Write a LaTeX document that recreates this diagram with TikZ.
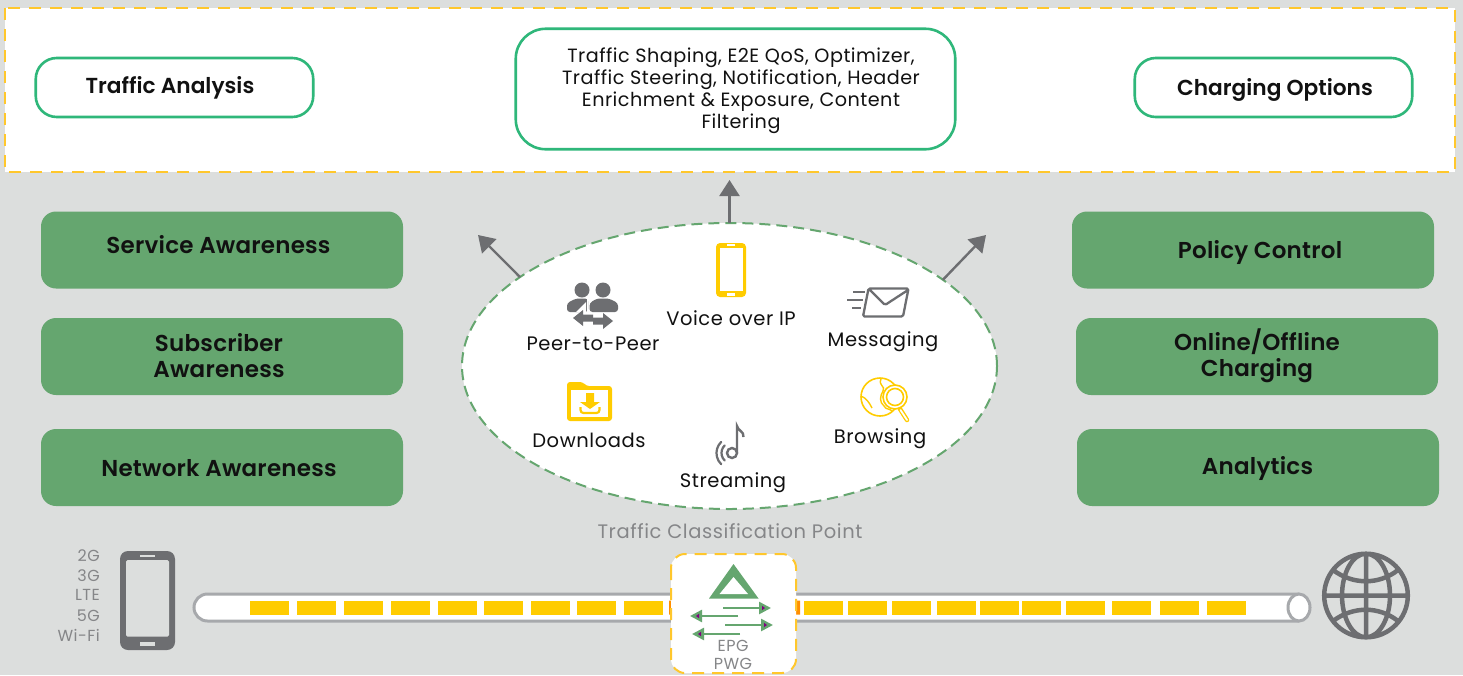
\documentclass[tikz,border=0pt]{standalone}
\usepackage{fontspec}
\setmainfont{Poppins}[BoldFont={Poppins SemiBold}]
\usetikzlibrary{arrows.meta,shapes.geometric}
\definecolor{bggray}{HTML}{DCDEDD}
\definecolor{dashyel}{HTML}{FFC72C}
\definecolor{fillyel}{HTML}{FFCC00}
\definecolor{boxgreen}{HTML}{65A66F}
\definecolor{linegreen}{HTML}{2FB77A}
\definecolor{icongray}{HTML}{6D6E71}
\definecolor{softgray}{HTML}{858688}
\definecolor{pipegray}{HTML}{A7A9AC}
\definecolor{inkblack}{HTML}{111111}
\begin{document}
\begin{tikzpicture}[x=1pt,y=-1pt,
yeldash/.style={draw=dashyel, line width=2pt, dash pattern=on 12pt off 9pt, fill=white},
outbox/.style={rectangle, draw=linegreen, line width=2.6pt, fill=white, rounded corners=21pt,
                inner sep=0pt, minimum width=277.5pt, minimum height=59pt},
grnbox/.style={rectangle, fill=boxgreen, rounded corners=15pt,
                inner sep=0pt, minimum width=362pt, minimum height=77pt},
toptxt/.style={font=\fontsize{21.7}{26}\selectfont\bfseries, text=inkblack, align=center, inner sep=0pt},
boldtxt/.style={font=\fontsize{23}{26}\selectfont\bfseries\addfontfeature{LetterSpace=1}, text=inkblack, align=center, inner sep=0pt},
appcap/.style={font=\fontsize{19.5}{22}\selectfont\addfontfeature{LetterSpace=3}, text=inkblack, align=center, inner sep=0pt},
epgcap/.style={font=\fontsize{16}{18}\selectfont\addfontfeature{LetterSpace=3}, text=softgray, inner sep=0pt},
gencap/.style={epgcap, anchor=east},
bar/.style={fill=fillyel},
grayarrow/.style={draw=icongray, line width=2.4pt, -{Triangle[width=20pt,length=16pt]}},
epgarrow/.style={draw=boxgreen, line width=2.5pt, -{Triangle[width=12pt,length=12pt]}}]
    \useasboundingbox (0,0) rectangle (1463,675);
    \fill [bggray] (0,0) rectangle (1463,675);
    % top band
    \draw [yeldash] (5,8) rectangle (1455,172);
    \node [outbox] (analysis) at (174.5,87.5) {};
    \node [toptxt] (analysistxt) at (170,88) {Traffic Analysis};
    \node [outbox, minimum width=439.5pt, minimum height=120.5pt, rounded corners=30pt] (shaping) at (735.5,89) {};
    \node [appcap, font=\fontsize{19.2}{22}\selectfont\addfontfeature{LetterSpace=2.5}] (shapingtxt) at (741,91)
        {Traffic Shaping, E2E QoS, Optimizer,\\Traffic Steering, Notification, Header\\Enrichment \& Exposure, Content\\Filtering};
    \node [outbox] (charging) at (1273.5,87.5) {};
    \node [toptxt] (chargingtxt) at (1275,90) {Charging Options};
    % green boxes
    \node [grnbox] (service) at (222,250) {};
    \node [boldtxt] (servicetxt) at (218.5,245) {Service Awareness};
    \node [grnbox] (subscriber) at (222,356.5) {};
    \node [boldtxt] (subscribertxt) at (219,355.5) {Subscriber\\Awareness};
    \node [grnbox] (network) at (222,467.5) {};
    \node [boldtxt] (networktxt) at (219,468.5) {Network Awareness};
    \node [grnbox] (policy) at (1253,250) {};
    \node [boldtxt] (policytxt) at (1260,252) {Policy Control};
    \node [grnbox] (online) at (1257,356.5) {};
    \node [boldtxt] (onlinetxt) at (1257,355.5) {Online/Offline\\Charging};
    \node [grnbox] (analytics) at (1258,467.5) {};
    \node [boldtxt] (analyticstxt) at (1257.5,468) {Analytics};
    % classification ellipse and its arrows
    \node [ellipse, draw=boxgreen, line width=2pt, dash pattern=on 11pt off 6pt, fill=white,
           inner sep=0pt, outer sep=0pt, minimum width=535pt, minimum height=286pt] (point) at (729.5,366) {};
    \coordinate (tipl) at (478,235);
    \coordinate (tipc) at (729.5,180);
    \coordinate (tipr) at (986,235);
    \draw [grayarrow] (point.157.7) -- (tipl);
    \draw [grayarrow] (point.north) -- (tipc);
    \draw [grayarrow] (point.22.3) -- (tipr);
    \node [appcap] (voip) at (731,318) {Voice over IP};
    \node [appcap] (peer) at (593,343.5) {Peer-to-Peer};
    \node [appcap] (messaging) at (883,342) {Messaging};
    \node [appcap] (downloads) at (589,440) {Downloads};
    \node [appcap] (browsing) at (880,439) {Browsing};
    \node [appcap] (streaming) at (733,483) {Streaming};
    \node [appcap, text=softgray] (classpoint) at (730,531) {Traffic Classification Point};
    % voice icon
    \fill [fillyel, rounded corners=4pt] (716,243) rectangle (746,297);
    \fill [white] (719.5,248) rectangle (743,291);
    \fill [white] (727,244.3) rectangle (735,246);
    \fill [white] (727,293.3) rectangle (735,295.5);
    % peer icon
    \fill [icongray] (582,290) circle (7.5) (603,290) circle (7.5);
    \fill [icongray, rounded corners=3pt] (567,312) -- (567,303) -- (576,298.5) -- (588,298.5) -- (588,312) -- cycle;
    \fill [icongray, rounded corners=3pt] (589.5,312) -- (589.5,303) -- (597,298.5) -- (609,298.5) -- (618,303) -- (618,312) -- cycle;
    \draw [white, line width=1.5pt] (587.5,298) -- (587.5,313);
    \fill [white] (576,312) -- (586,302) -- (586,313) -- cycle;
    \fill [icongray] (573,318) -- (583,310) -- (583,314.5) -- (593,314.5) -- (593,321.5) -- (583,321.5) -- (583,326) -- cycle;
    \fill [icongray] (613,321) -- (603,313) -- (603,317.5) -- (593,317.5) -- (593,324.5) -- (603,324.5) -- (603,329) -- cycle;
    % messaging icon
    \draw [icongray, line width=2.3pt, line join=round, rounded corners=1.5pt]
        (868.5,288.5) -- (908.5,288.5) -- (903,316.5) -- (863,316.5) -- cycle
        (870,290) -- (885,305) -- (908,290);
    \draw [icongray, line width=2pt]
        (853,292) -- (865,292) (847,300) -- (863,300) (852,308) -- (861,308);
    % downloads icon
    \fill [fillyel, rounded corners=3pt] (567,382) -- (583,382) -- (586,386) -- (612,386) -- (612,421) -- (567,421) -- cycle;
    \fill [white] (571,390) rectangle (608,417);
    \fill [fillyel] (586,393) -- (594,393) -- (594,402) -- (600,402) -- (590,409) -- (580,402) -- (586,402) -- cycle;
    \draw [fillyel, line width=2.2pt, rounded corners=3pt] (580.5,407) -- (580.5,413) -- (599.5,413) -- (599.5,407);
    % browsing icon
    \draw [fillyel, line width=1.6pt] (880,397) circle (19);
    \draw [fillyel, line width=1.4pt] (881,379) .. controls (878,386) and (886,386) .. (883,391) .. controls (880,396) and (879,402) .. (884,406) .. controls (886,410) and (889,408) .. (892,411);
    \draw [fillyel, line width=1.4pt] (861,396) .. controls (866,398) and (869,402) .. (872,408);
    \fill [white] (895,397) circle (12);
    \draw [fillyel, line width=1.6pt] (895,397) circle (12) (895,397) circle (8.5);
    \draw [fillyel, line width=4.5pt, line cap=round] (900,409) -- (907,420);
    \draw [white, line width=1.8pt, line cap=round] (900.5,410) -- (907,420);
    % streaming icon
    \draw [icongray, line width=2.4pt] (732,453) circle (5);
    \draw [icongray, line width=2.4pt] (737,453) -- (737,426) .. controls (738,431) and (744,431) .. (743.5,437);
    \draw [icongray, line width=2.2pt, line cap=round] (724.7,445.4) arc (226:134:10.5);
    \draw [icongray, line width=2.2pt, line cap=round] (721.2,441.9) arc (226:134:15.5);
    % pipe
    \draw [pipegray, line width=3pt, fill=white] (1299,594) -- (207.5,594) arc (270:90:13.5) -- (1299,621);
    \draw [pipegray, line width=3pt, fill=white] (1299,607.5) ellipse (11 and 13.5);
    \foreach \xa in {250,297,344,391,438,484,531,577,624,804,848,892,937,980,1022,1066,1112,1160,1207}
        \fill [bar] (\xa,600.5) rectangle +(39,14);
    \fill [orange!80!fillyel] (669,600.5) rectangle (690,614.5) (780,600.5) rectangle (800,614.5);
    % epg box
    \draw [yeldash, rounded corners=14pt, dash pattern=on 12pt off 8pt] (671,554) rectangle (796,673);
    \fill [boxgreen] (733.5,564) -- (758.5,598.5) -- (709,598.5) -- cycle;
    \fill [white] (733.5,577) -- (748,594) -- (719.5,594) -- cycle;
    \foreach \xa/\xb/\ya in {723/771/608, 738/690/616, 725/773/625, 740/692/634}
        \draw [epgarrow] (\xa,\ya) -- (\xb,\ya);
    \foreach \xc/\ya/\dir in {762/608/1, 699/616/-1, 764/625/1, 701/634/-1}
        \fill [violet] (\xc,\ya-2.2) -- (\xc+3*\dir,\ya) -- (\xc,\ya+2.2) -- cycle;
    \node [epgcap] (epg) at (733,646) {EPG};
    \node [epgcap] (pwg) at (733,664) {PWG};
    % handset and access labels
    \fill [icongray, rounded corners=8pt] (120,551) rectangle (175,650);
    \fill [bggray, rounded corners=1.5pt] (126,560) rectangle (169,636.5);
    \fill [bggray] (140,554.5) rectangle (155,556.5);
    \fill [bggray] (140,641.5) rectangle (155,645.5);
    \node [gencap] (gtwo) at (100,556) {2G};
    \node [gencap] (gthree) at (100,576) {3G};
    \node [gencap] (lte) at (100,595) {LTE};
    \node [gencap] (gfive) at (100,616) {5G};
    \node [gencap] (wifi) at (100,635) {Wi-Fi};
    % globe
    \draw [icongray, line width=4.5pt] (1366,595.5) circle (41.8)
        (1366,595.5) ellipse (24 and 41.8)
        (1366,553.7) -- (1366,637.3)
        (1324.2,595.5) -- (1407.8,595.5)
        (1333,570) .. controls (1353,585) and (1379,585) .. (1398,570)
        (1333,621) .. controls (1353,606) and (1379,606) .. (1398,621);
\end{tikzpicture}
\end{document}
